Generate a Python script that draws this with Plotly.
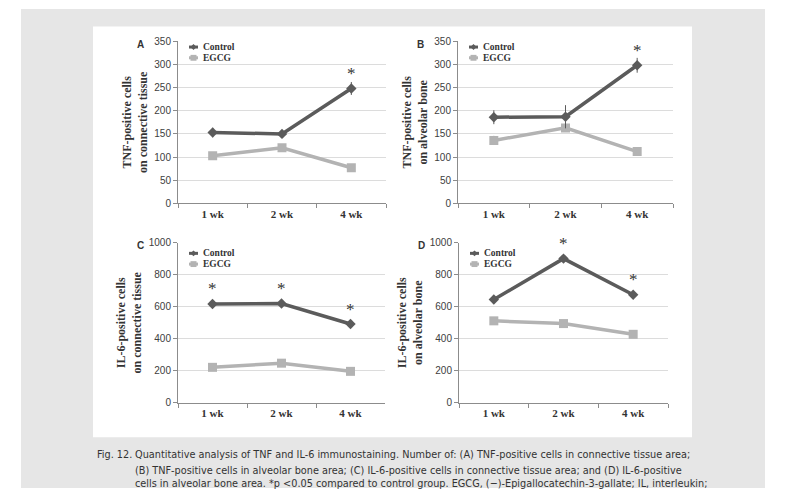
import plotly.graph_objects as go

W, H = 793, 494

weeks = ["1 wk", "2 wk", "4 wk"]

# Panel A: TNF connective tissue
a_control = [153, 150, 248]
a_control_err = [10, 6, 14]
a_egcg = [103, 120, 77]
a_egcg_err = [5, 8, 5]
a_stars = [None, None, 248]

# Panel B: TNF alveolar bone
b_control = [186, 187, 298]
b_control_err = [15, 25, 16]
b_egcg = [136, 163, 112]
b_egcg_err = [10, 8, 9]
b_stars = [None, None, 298]

# Panel C: IL-6 connective tissue
c_control = [617, 620, 492]
c_control_err = [15, 12, 12]
c_egcg = [222, 248, 197]
c_egcg_err = [10, 15, 8]
c_stars = [617, 620, 492]

# Panel D: IL-6 alveolar bone
d_control = [645, 900, 675]
d_control_err = [20, 15, 12]
d_egcg = [512, 495, 428]
d_egcg_err = [10, 12, 15]
d_stars = [None, 900, 675]

series_names = ["Control", "EGCG"]

y_titles = ["TNF-positive cells<br>on connective tissue",
            "TNF-positive cells<br>on alveolar bone",
            "IL-6-positive cells<br>on connective tissue",
            "IL-6-positive cells<br>on alveolar bone"]
panel_letters = ["A", "B", "C", "D"]

caption_label = "Fig. 12."
caption_lines = [
    "Quantitative analysis of TNF and IL-6 immunostaining. Number of: (A) TNF-positive cells in connective tissue area;",
    "(B) TNF-positive cells in alveolar bone area; (C) IL-6-positive cells in connective tissue area; and (D) IL-6-positive",
    "cells in alveolar bone area. *p <0.05 compared to control group. EGCG, (\u2212)-Epigallocatechin-3-gallate; IL, interleukin;",
]

CTRL = "#5b5b5b"
EG = "#b3b3b3"

# pixel geometry (left, right, top, bottom)
panels = [
    (178, 386, 37, 203),
    (458, 673, 37, 203),
    (178, 385, 243, 407),
    (459, 668, 243, 407),
]
legend_offsets = [(6, 17), (6, 17), (11, 22), (11, 22)]
yranges = [(350, 50), (350, 50), (1000, 200), (1000, 200)]

data = [
    (a_control, a_control_err, a_egcg, a_egcg_err, a_stars),
    (b_control, b_control_err, b_egcg, b_egcg_err, b_stars),
    (c_control, c_control_err, c_egcg, c_egcg_err, c_stars),
    (d_control, d_control_err, d_egcg, d_egcg_err, d_stars),
]

fig = go.Figure()
layout = dict(
    width=W, height=H, margin=dict(l=0, r=0, t=0, b=0),
    paper_bgcolor="white", plot_bgcolor="white", showlegend=False,
)

serif = "Liberation Serif, Times New Roman, serif"
sans = "Liberation Sans, Arial, sans-serif"


def px(x):
    return x / W


def py(y):
    return 1 - y / H


annotations = []
shapes = [
    dict(type="rect", xref="paper", yref="paper", x0=px(21), x1=px(765), y0=0, y1=py(4),
         fillcolor="#e6e6e6", line=dict(width=0), layer="below"),
    dict(type="rect", xref="paper", yref="paper", x0=px(93), x1=px(692), y0=py(442), y1=py(22),
         fillcolor="white", line=dict(width=0), layer="below"),
]

for i, ((l, r, t, b), (ymax, dt), (ctl, ctle, eg, ege, stars)) in enumerate(zip(panels, yranges, data)):
    n = i + 1
    xa = "x" if n == 1 else f"x{n}"
    ya = "y" if n == 1 else f"y{n}"
    fig.add_trace(go.Scatter(
        x=weeks, y=eg, mode="lines+markers", name=series_names[1],
        line=dict(color=EG, width=3.5), marker=dict(symbol="square", size=9, color=EG),
        error_y=dict(type="data", array=ege, color=EG, thickness=1, width=0),
        xaxis=xa, yaxis=ya))
    fig.add_trace(go.Scatter(
        x=weeks, y=ctl, mode="lines+markers", name=series_names[0],
        line=dict(color=CTRL, width=3.5), marker=dict(symbol="diamond", size=8, color=CTRL),
        error_y=dict(type="data", array=ctle, color=CTRL, thickness=1, width=0),
        xaxis=xa, yaxis=ya))

    xkey = "xaxis" if n == 1 else f"xaxis{n}"
    ykey = "yaxis" if n == 1 else f"yaxis{n}"
    layout[xkey] = dict(
        domain=[px(l), px(r)], anchor=ya, type="category", range=[-0.5, 2.5],
        showline=True, linecolor="#8c8c8c", linewidth=1, ticks="outside", tickson="boundaries",
        ticklen=4, tickcolor="#8c8c8c", showgrid=False, zeroline=False,
        tickfont=dict(family=serif, size=11, color="#333333", weight="bold"),
    )
    layout[ykey] = dict(
        domain=[py(b), py(t)], anchor=xa, range=[0, ymax], dtick=dt,
        showline=True, linecolor="#8c8c8c", linewidth=1, ticks="outside", ticklen=4,
        tickcolor="#8c8c8c", gridcolor="#dcdcdc", gridwidth=1, zeroline=False,
        tickfont=dict(family=sans, size=10, color="#404040"),
        title=dict(text=y_titles[i], standoff=4,
                   font=dict(family=serif, size=12, color="#333333", weight="bold")),
    )
    # custom compact legend
    for (name, col, sym), off in zip([(series_names[0], CTRL, "diamond"), (series_names[1], EG, "square")],
                                     legend_offsets[i]):
        yy = t + off
        shapes.append(dict(type="line", xref="paper", yref="paper", x0=px(l + 11), x1=px(l + 20),
                           y0=py(yy), y1=py(yy), line=dict(color=col, width=3)))
        cx = l + 15.5
        if sym == "square":
            shapes.append(dict(type="rect", xref="paper", yref="paper", x0=px(cx - 3), x1=px(cx + 3),
                               y0=py(yy + 3), y1=py(yy - 3), fillcolor=col, line=dict(width=0)))
        else:
            shapes.append(dict(type="path", xref="paper", yref="paper",
                               path=f"M {px(cx - 3)} {py(yy)} L {px(cx)} {py(yy - 3)} L {px(cx + 3)} {py(yy)} L {px(cx)} {py(yy + 3)} Z",
                               fillcolor=col, line=dict(width=0)))
        annotations.append(dict(x=px(l + 23), y=py(yy), xref="paper", yref="paper", text=name,
                                showarrow=False, xanchor="left", yanchor="middle",
                                font=dict(family=serif, size=9.5, color="#333333", weight="bold")))
    # stars
    for wk, s in zip(weeks, stars):
        if s is not None:
            annotations.append(dict(
                x=wk, y=s, xref=xa, yref=ya, text="*", showarrow=False,
                yshift=15, font=dict(family=serif, size=17, color="#333333")))
    # panel letter
    annotations.append(dict(
        x=px(l - 43), y=py(t + 3), xref="paper", yref="paper", text=f"<b>{panel_letters[i]}</b>",
        showarrow=False, xanchor="left", yanchor="middle",
        font=dict(family=sans, size=10, color="#333333")))

# caption
cap_font = dict(family="DejaVu Sans Condensed, Liberation Sans Narrow, sans-serif",
                size=10.8, color="#333333")
annotations.append(dict(x=px(95), y=py(460), xref="paper", yref="paper", text=caption_label,
                        showarrow=False, xanchor="left", yanchor="middle", font=cap_font))
for line, yc in zip(caption_lines, [460, 476, 489]):
    annotations.append(dict(x=px(133), y=py(yc), xref="paper", yref="paper", text=line,
                            showarrow=False, xanchor="left", yanchor="middle", font=cap_font))

layout["annotations"] = annotations
layout["shapes"] = shapes
fig.update_layout(**layout)
fig.write_html("out.html")
